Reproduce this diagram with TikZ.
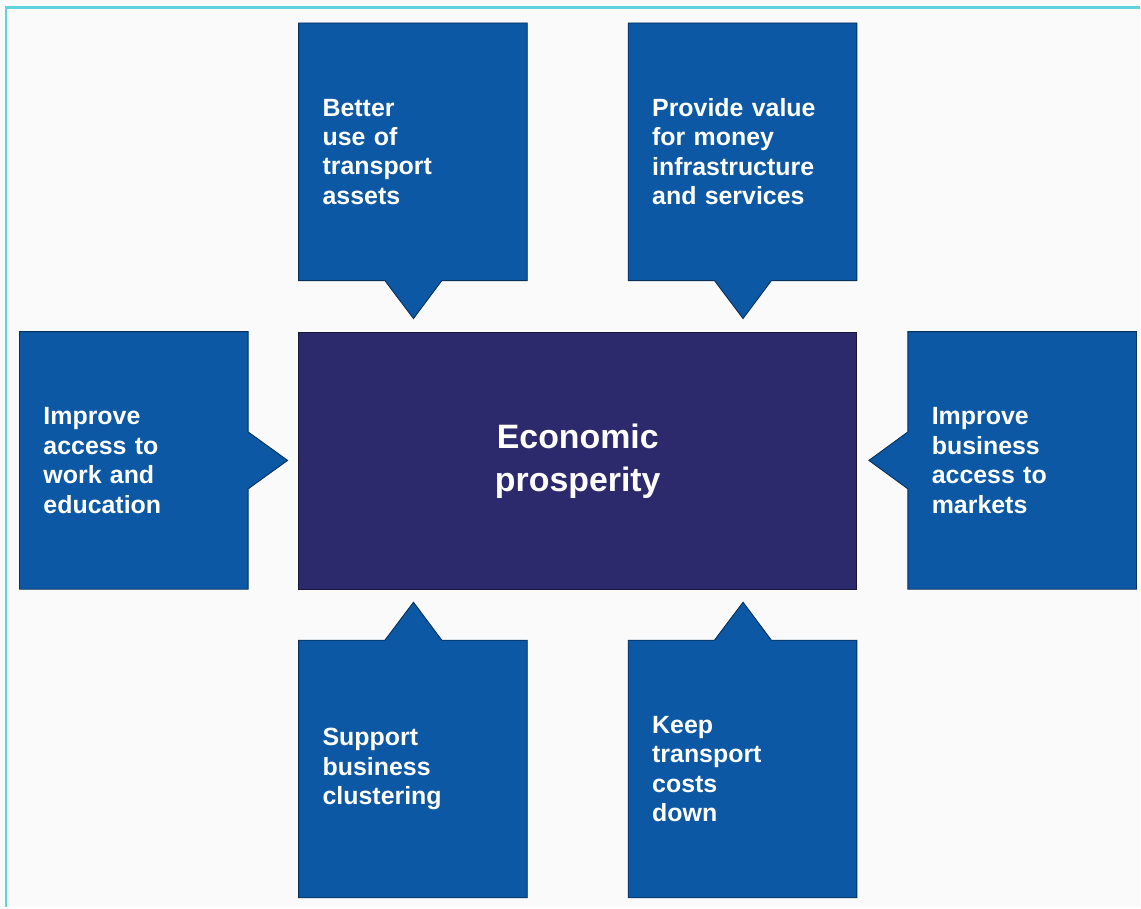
\documentclass[tikz,border=0pt]{standalone}
\usepackage{fontspec}
\setmainfont{Liberation Sans}
\usetikzlibrary{shapes.callouts}
\definecolor{goalblue}{HTML}{0C58A4}
\definecolor{hubnavy}{HTML}{2C2A6C}
\definecolor{paper}{HTML}{FAFAFA}
\definecolor{framecyan}{HTML}{5ED5DE}

\begin{document}
\begin{tikzpicture}[x=0.02cm, y=-0.02cm,
  goal/.style={rectangle callout, fill=goalblue, draw=goalblue!55!black,
    line width=0.5pt, minimum width=4.58cm, minimum height=5.16cm,
    inner xsep=0.48cm, text width=3.62cm, align=left, text=white,
    callout pointer width=1.14cm,
    font=\bfseries\fontsize{14.2}{16.8}\selectfont},
  hub/.style={rectangle, fill=hubnavy, draw=hubnavy!55!black,
    line width=0.5pt, minimum width=11.18cm, minimum height=5.14cm,
    align=center, text=white, font=\bfseries\fontsize{19.3}{24.4}\selectfont}]
  \fill[paper] (0,0) rectangle (1141,908);
  \draw[framecyan, line width=1.7pt] (6,908) -- (6,8) -- (1141,8);

  \node[hub] (eco) at (578.5,461.5) {Economic\\prosperity};

  \node[goal, callout absolute pointer={(414,319)}] (assets)
    at (413.5,152) {Better\\use of\\transport\\assets};
  \node[goal, callout absolute pointer={(744,319)}] (value)
    at (743.5,152) {Provide value\\for money\\infrastructure\\and services};
  \node[goal, callout absolute pointer={(288,461)}] (access)
    at (134,461) {Improve\\access to\\work and\\education};
  \node[goal, callout absolute pointer={(870,461)}] (markets)
    at (1023.5,461) {Improve\\business\\access to\\markets};
  \node[goal, callout absolute pointer={(414,603)}] (cluster)
    at (413.5,770) {Support\\business\\clustering};
  \node[goal, callout absolute pointer={(744,603)}] (costs)
    at (743.5,770) {Keep\\transport\\costs\\down};
\end{tikzpicture}
\end{document}
